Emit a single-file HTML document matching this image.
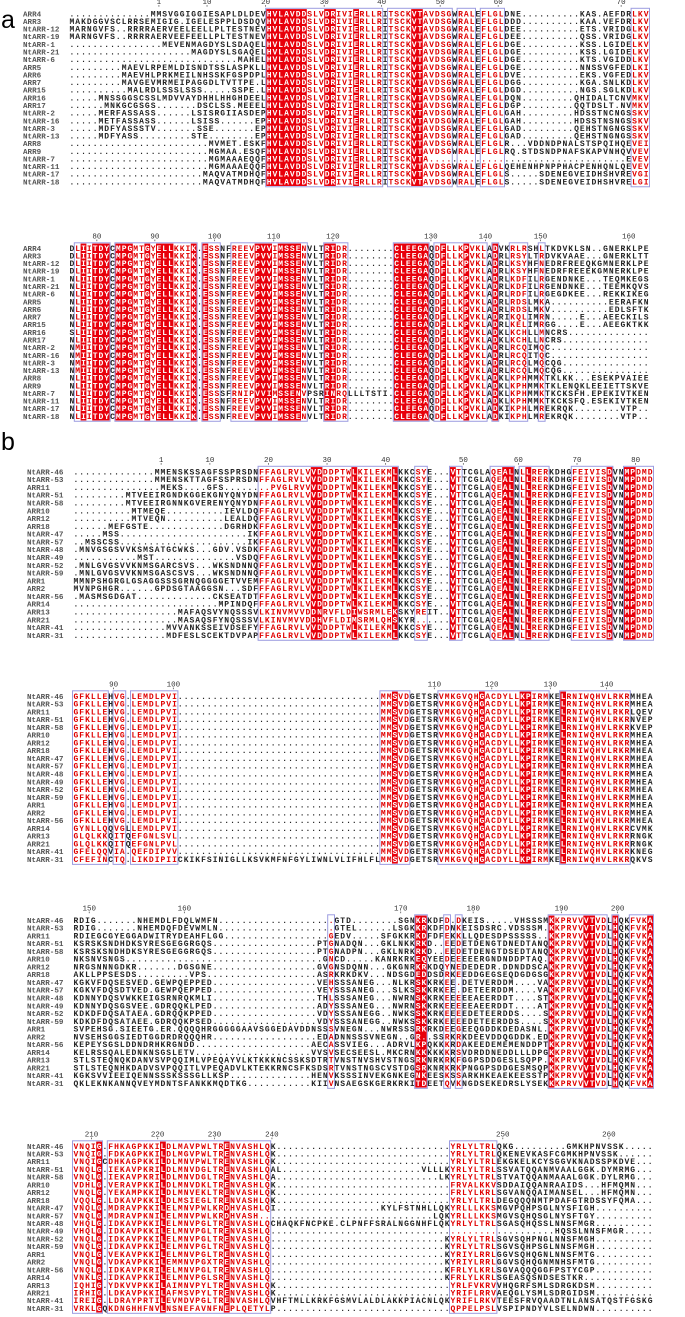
<!DOCTYPE html>
<html><head><meta charset="utf-8"><title>Multiple sequence alignment of ARR proteins</title>
<style>
html,body{margin:0;padding:0;background:#fff;}
svg{display:block;}
</style></head>
<body>
<svg id="fig" xmlns="http://www.w3.org/2000/svg" width="685" height="1317" viewBox="0 0 685 1317">
<text x="1" y="28" font-family="Liberation Sans, sans-serif" font-size="25" fill="#000">a</text>
<text x="1" y="450" font-family="Liberation Sans, sans-serif" font-size="25" fill="#000">b</text>
</svg>
<script>
const CW = 5.8;
const namesA = ["ARR4","ARR3","NtARR-12","NtARR-19","NtARR-1","NtARR-21","NtARR-6","ARR5","ARR6","ARR7","ARR15","ARR16","ARR17","NtARR-2","NtARR-16","NtARR-3","NtARR-13","ARR8","ARR9","NtARR-7","NtARR-11","NtARR-17","NtARR-18"];
const namesB = ["NtARR-46","NtARR-53","ARR11","NtARR-51","NtARR-58","ARR10","ARR12","ARR18","NtARR-47","NtARR-57","NtARR-48","NtARR-49","NtARR-52","NtARR-59","ARR1","ARR2","NtARR-56","ARR14","ARR13","ARR21","NtARR-41","NtARR-31"];

const rulerA1 = [["1",15],["10",23.3],["20",33.4],["30",43.5],["40",53.4],["50",63.5],["60",73.5],["70",94.7]];
const rulerA2 = [["80",4.3],["90",14.3],["100",24.6],["110",34.8],["120",45],["130",61.9],["140",71.3],["150",80.8],["160",96]];
const rulerB1 = [["1",14.7],["10",23.1],["20",33.2],["30",43.3],["40",53.4],["50",66.8],["60",76.3],["70",86.4],["80",96.5]];
const rulerB2 = [["90",6.5],["100",16.8],["110",61.8],["120",71.7],["130",81.8],["140",91.5]];
const rulerB3 = [["150",2.3],["160",18.7],["170",56],["180",68.5],["190",83.7],["200",93.4]];
const rulerB4 = [["210",2.7],["220",14.1],["230",23.9],["240",33.8],["250",73.6],["260",91.9]];

const segA1 = [["F",34,40],["F",44,45],["F",49,49],["F",59,60],["r",41,43],["r",46,48],["r",50,53],["r",55,58],["r",61,65],["r",67,69],["r",71,74],["r",97,99]];
const segA2 = [["r",1,1],["F",2,2],["r",3,3],["F",4,6],["F",8,10],["r",11,12],["F",13,13],["r",14,14],["F",15,17],["r",18,20],["F",21,21],["F",23,23],["r",24,25],["r",28,31],["F",32,34],["r",35,35],["F",36,39],["r",40,40],["F",44,45],["r",46,47],["F",56,61],["r",63,63],["F",64,64],["r",65,67],["F",68,68],["r",69,71],["F",73,73],["r",76,78],["r",81,81]];
const segB1 = [["r",32,40],["F",41,42],["r",43,47],["F",48,48],["r",49,54],["F",55,55],["r",59,60],["F",65,65],["r",66,66],["r",72,73],["F",74,75],["r",77,77],["F",78,78],["r",79,81],["r",86,91],["F",92,92],["F",95,96],["r",97,99]];
const segB2 = [["r",0,5],["r",7,8],["r",10,17],["r",53,54],["F",55,55],["r",56,57],["r",63,69],["F",70,70],["r",71,76],["F",77,78],["r",79,81],["F",84,84],["r",85,95]];
const segB3 = [["r",44,44],["F",59,60],["r",64,64],["r",66,66],["F",82,82],["r",83,87],["F",88,89],["r",90,91],["F",93,93],["r",96,98],["F",99,99]];
const segB4 = [["r",0,3],["F",4,4],["r",6,14],["F",15,15],["r",16,25],["F",26,26],["r",27,33],["r",65,72]];

const coreA1 = "..............MMSVGGIGGIESAPLDLDEVHVLAVDDSLVDRIVIERLLRITSCKVTAVDSGWRALEFLGLDNE..........KAS.AEFDRLKV";
const coreA2 = "DLIITDYCMPGMTGYELLKKIK.ESSNFREEVPVVIMSSENVLTRIDR........CLEEGAQDFLLKPVKLADVKRLRSHLTKDVKLSN..GNERKLPE";
const coreB1 = "..............MMENSKSSAGFSSPRSDNFFAGLRVLVVDDDPTWLKILEKMLKKCSYE...VTTCGLAQEALNLLRERKDHGFEIVISDVNMPDMD";
const coreB2 = "GFKLLEHVG.LEMDLPVI...................................MMSVDGETSRVMKGVQHGACDYLLKPIRMKELRNIWQHVLRKRMHEA";
const coreB3 = "RDIG.......NHEMDLFDQLWMFN....................GTD........SGNKRKDFD.DKEIS.....VHSSSMKKPRVVVTVDLHQKFVKA";
const coreB4 = "VNQIG.FHKAGPKKILDLMAVPWLTRENVASHLQK..............................YRLYLTRLQKG.........GMKHPNVSSK.....";

const ovA1 = {
"ARR3":[[0,"MAKDGGVSCLRRSEMIGIG.IGELESPPLDSDQV"],[-1,"DDD..........KAA.VEFDRLKV"]],
"NtARR-12":[[0,"MARNGVFS..RRRRAERVEELEELLPLTESTNEV"],[-1,"DEE..........ETS.VRIDGLKV"]],
"NtARR-19":[[0,"MARNGVFS..RRRRAERVEEFEELLPLTESTNEV"],[-1,"DEE..........QSS.VRIDGLKV"]],
"NtARR-1":[[0,"................MEVENMAGDYSLSDAQEL"],[-1,"DGE..........KSS.LGIDELKV"]],
"NtARR-21":[[0,".....................MAGDYSLSGAQEL"],[-1,"DGE..........KSS.LGIDELKV"]],
"NtARR-6":[[0,".............................MAHEL"],[-1,"DGE..........KTS.VGIDDLKV"]],
"ARR5":[[0,".........MAEVLRPEMLDISNDTSSLASPKLL"],[-1,"DGE..........NNSSVGFEDLKI"]],
"ARR6":[[0,".........MAEVHLPRKMEILNHSSKFGSPDPL"],[-1,"DVE..........EKS.VGFEDLKV"]],
"ARR7":[[0,".........MAVGEVMRMEIPAGGDLTVTTPE.L"],[-1,"DGG..........KGA.SNLKDLKV"]],
"ARR15":[[0,"..........MALRDLSSSLSSS.....SSPE.L"],[-1,"DGD..........NGS.SGLKDLKV"]],
"ARR16":[[0,".....MNSSGGSCSSLMDVVAYDHHLHHGHDEEL"],[-1,"DQN.........QHIDALTCNVMKV"]],
"ARR17":[[0,"......MNKGCGSGS.......DSCLSS.MEEEL"],[-1,"DGP.........QQTDSLT.NVMKV"]],
"NtARR-2":[[0,".....MERFASSASS......LSISRGIIASDEP"],[-1,"GAH.........HDSSTNCNGSSKV"]],
"NtARR-16":[[0,".....METFASSASS......LSISS......EP"],[-1,"GAH.........HDSSTNSNGSSKV"]],
"NtARR-3":[[0,".....MDFYASSSTV.......SSE.......EP"],[-1,"GAD.........QEHSTNGNGSSKV"]],
"NtARR-13":[[0,".....MDFYASS.........STE........EP"],[-1,"GAD.........QEHSTNGNGSSKV"]],
"ARR8":[[0,"........................MVMET.ESKF"],[-1,"R...VDDNDPNALSTSPQIHQEVEI"]],
"ARR9":[[0,"........................MGMAA.ESQF"],[-1,"RQ.STDSNDPNAFSKAPVNHQVVEV"]],
"NtARR-7":[[0,"........................MGMAAAEQQF"],[-1,"..................................EVEV"]],
"NtARR-11":[[0,"........................MGMAAAEQQF"],[-1,"QEHENHPNPPHACPENHQNLQEVEV"]],
"NtARR-17":[[0,".......................MAQVATMDHQF"],[-1,"S.....SDENEGVEIDHSHVREVGI"]],
"NtARR-18":[[0,".......................MAQVATMDHQF"],[-1,"S.....SDENEGVEIDHSHVRELGI"]]
};
const ovA2 = {
"ARR3":[[-1,"RLRSYLTRDVKVAAE...GNERKLTT"]],
"NtARR-12":[[-1,"RLKSYHFNEDRFREEQKGMNERKLPE"]],
"NtARR-19":[[-1,"RLKSYHFNEDRFREEEKGMNERKLPE"]],
"NtARR-1":[[0,"NL"],[-1,"RLKDFILRGENDNKE...TEQMKEGS"]],
"NtARR-21":[[0,"NL"],[-1,"RLKDFILRGENDNKE...TEEMKQVS"]],
"NtARR-6":[[0,"NL"],[-1,"RLRDFILRGEGDKEE...REKKIKEG"]],
"ARR5":[[0,"NL"],[-1,"RLRDSLMKA..........EERAFKN"]],
"ARR6":[[0,"NL"],[-1,"RLRDSLMKV..........EDLSFTK"]],
"ARR7":[[0,"NL"],[-1,"RIKQLIMRN.....E...AEECKILS"]],
"ARR15":[[0,"NL"],[-1,"RLKELIMRGG....E...AEEGKTKK"]],
"ARR16":[[0,"SL"],[-1,"KLKCHLLMNCRS.............."]],
"ARR17":[[0,"NL"],[-1,"KLKCHLLNCRS..............."]],
"NtARR-2":[[0,"NM"],[-1,"RLRCQIMQC................."]],
"NtARR-16":[[0,"NM"],[-1,"RLRCQITQC................."]],
"NtARR-3":[[0,"NM"],[-1,"RLRCQLMQCQG..............."]],
"NtARR-13":[[0,"NM"],[-1,"RLRCQLMQCQG..............."]],
"ARR8":[[0,"NL"],[-1,"KLKPHMMKTKLKK...ESEKPVAIEE"]],
"ARR9":[[0,"NL"],[-1,"KLKPHMMKTKLENQKLEEIETTSKVE"]],
"NtARR-7":[[0,"NLIITDYCMPGMTGYDLLKKIK.ESSSFRNIPVVIMSSENVPSRINRQLLLTSTI"],[-1,"KLKPHMMKTKCKSFH.EPEKIVTKEN"]],
"NtARR-11":[[0,"NL"],[-1,"KLKPHMMKTKCKSFQ.ESEKIVTKEN"]],
"NtARR-17":[[0,"NL"],[-1,"KIKPHLMREKRQK........VTP.."]],
"NtARR-18":[[0,"NL"],[-1,"KIKPHLMREKRQK........VTP.."]]
};
const ovB1 = {
"NtARR-53":[[0,"..............MMENSKTTAGFSSPRSDN"]],
"ARR11":[[0,"...............MEKS....GFS........PVGLRV"]],
"NtARR-51":[[0,".........MTVEEIRGNDKGGEKGNYQNYDN"]],
"NtARR-58":[[0,".........MTVEEIRGNNKGVERENYQNYDN"]],
"ARR10":[[0,"..........MTMEQE..........IEVLDQ"]],
"ARR12":[[0,"..........MTVEQN..........LEALDQ"]],
"ARR18":[[0,"......MEFGSTE.............DGRHDK"]],
"NtARR-47":[[0,".....MSS......................IK"]],
"NtARR-57":[[0,"..MSSCSS......................IK"]],
"NtARR-48":[[0,".MNVGSGSVVKSMSATGCWKS...GDV.VSDK"]],
"NtARR-49":[[0,"...........MST..............VSDQ"]],
"NtARR-52":[[0,".MNLGVGSVVKNMSGARCSVS...WKSNDNNQ"]],
"NtARR-59":[[0,".MNLGVGSVVKNMSGASCSVS...WKSNDNNQ"]],
"ARR1":[[0,"MMNPSHGRGLGSAGGSSSGRNQGGGGETVVEM"]],
"ARR2":[[0,"MVNPGHGR......GPDSGTAAGGSN...SDF"]],
"NtARR-56":[[0,".MASMSGDGAT.............CKSEATDT"]],
"ARR14":[[0,".........................MPINDQF"]],
"ARR13":[[0,"..................MAFAQSVYNQSSSVLKINVMVVDDNRVFLDIWSRMLEKSKYREIT"]],
"ARR21":[[0,"..................MASAQSFYNQSSSVLKINVMVVDDHVFLDIMSRMLQHSKYR...."]],
"NtARR-41":[[0,"................MVVANKSSEIVDSEFY"]],
"NtARR-31":[[0,"................MDFESLSCEKTDVPAP"]]
};
const ovB2 = {
"ARR11":[[96,"LQEV"]],
"NtARR-51":[[96,"NVEP"]],
"NtARR-58":[[96,"KVEP"]],
"ARR14":[[0,"GYNLLQQVGLLEMDLPVI"],[96,"CVMK"]],
"ARR13":[[0,"GLQLKKQITQEFGNLSVL"],[96,"RNGK"]],
"ARR21":[[0,"GLQLKKQITQEFGNLPVL"],[96,"RNGK"]],
"NtARR-41":[[0,"GFELQQVIA.QEFDIPVV"],[96,"KNEG"]],
"NtARR-31":[[0,"CFEFINCTQ.LIKDIPIICKIKFSINIGLLKSVKMFNFGYLIWNLVLIFHLFL"],[96,"QKVS"]]
};
const ovB3 = {
"NtARR-53":[[0,"RDIG.......NHEMDQFDEVWMLN....................GTEL......LSGKKRKDFDNKEISDSRC.VDSSSM",82]],
"ARR11":[[0,"RDIEGCGYEGGADWITRYDEAHFLGG..................GEDV.....SFGKKRKDFDFEKKLLQDESDPSSSSS",82]],
"NtARR-51":[[0,"KSRSKSNDHDKSYRESGEGGRGQS..................PTGNADQN...GKLNKKRKD..EEDETDENGTDNEDTANQ",82]],
"NtARR-58":[[0,"KSRSKSNDHDKSYRESGEGGRGQS..................PTGNADPN...GKLNRKRKD..EEDETDENGTDSEDTANQ",82]],
"ARR10":[[0,"NKSNVSNGS..................................GNCD.....KANRKRKEQYEEDEEEEERGNDNDDPTAQ",82]],
"ARR12":[[0,"NRGSNNNGDKR.......DGSGNE..................GVGNSDQNN...GKGNRKRKDQYNEDEDEDR.DDNDDSCAQ",82]],
"ARR18":[[0,"AKLLPPSESDS.........VPS...................ASRKRKDKV...NDSGDEDDSDRKEEDDGEGSEQDGDGSGTR",82]],
"NtARR-47":[[0,"KGKVFDQSESVED.GEWPQEPPED..................VEHSSSANEG...NLKRSKKRKEE.DETVERDDM....VAL",82]],
"NtARR-57":[[0,"KGKVFDQSDTVED.GEWPQEPPED..................VEYSSSANEG...SLKSSKKRKEE.DETEERDDM....VAL",82]],
"NtARR-48":[[0,"KDNNYDQSVWKKEIGSRNRQKMLI..................THLSSSANEG...NWRNSKKRKEEEEEAEERDDT....STL",82]],
"NtARR-49":[[0,"KDNNYDQSGSVEE.GDRQQKLPED..................ADYSSSANEG...NWRNSKKRKEEEEEAEERDDT....ATL",82]],
"NtARR-52":[[0,"KDKDFDQSATAEA.GDRQQKPPED..................VDYSSSANEGG..NWKSSKKRKEEEEDETEERDDS....SSL",82]],
"NtARR-59":[[0,"KDKDFDQSATAEE.GDRQQKPSED..................VDYSSSANEGG..NWKSSKKRKEEEEDETEERDDS....SSL",82]],
"ARR1":[[0,"SVPEHSG.SIEETG.ER.QQQQHRGGGGGAAVSGGEDAVDDNSSSVNEGN...NWRSSSRKRKDEEGEEQGDDKDEDASNL",82]],
"ARR2":[[0,"NVSEHSGGSIEDTGGDRDRQQQHR..................EDADNNSSSVNEGN..GR..SSRKRKDEEVDDQGDDK.EDSSSL",82]],
"NtARR-56":[[0,"KEPEYSGSLDDNDRHKRGNDD....................AECASSVIEG...ADRVLKPQKKKRDAKEEDEMEMENDDPTTA",82]],
"ARR14":[[0,"KELRSSQALEDNKNSGSLETV....................VVSVSECSEESL.MKCRNKKKKKKRSVDRDDNEDDLLLDPGNS",82]],
"ARR13":[[0,"STLSTEQNQKDANVSVPQQIMLVPEQAYVLKTKKKNCSSKSDTRTVNSTNVSHVSTNGSRKNRKRKFGGPSDDGESLSQPP",82]],
"ARR21":[[0,"STLSTEQNHKDADVSVPQQITLVPEQADVLKTEKKRNCSFKSDSRTVNSTNGSCVSTDGSRKNRKRKPNGGPSDDGESMSQPA",82]],
"NtARR-41":[[0,"KGKSVVIEEIQENNSSSKSSSGLLKSP..............HENVKSSSINVEKGNKEGNKEESKSSARKHKEAEKEESSTPP",82]],
"NtARR-31":[[0,"QKLEKNKANNQVEYMDNTSFANKKMQDTKG...........KIIVNSAEGSKGERKRKITDEETQVKNGDSEKEDRSLYSEKTME",82]]
};
const ovB4 = {
"NtARR-53":[[0,"VNQIG.FDKAGPKKILDLMGVPWLTRENVASHLQK"],[73,"QKENEVKASFCGMKHPNVSSK......",27]],
"ARR11":[[0,"VNQIGCDHKAGPKKILDLMNVPWLTRENVASHLQK"],[73,"EKGKELKCYSGGVKNADSSPKDVE...",27]],
"NtARR-51":[[0,"VNQLG.IEKAVPKRILDLMNVDGLTRENVASHLQAL"],[60,"VLLLK"],[73,"SSVATQQANMVAALGGK.DYMRMG...",27]],
"NtARR-58":[[0,"VNQLG.IEKAVPKRILDLMNVDGLTRENVASHLQA"],[63,"LK"],[73,"STVATQQANMAAALGGK.DYLRMG...",27]],
"ARR10":[[0,"VDHLG.VERAVPKKILDLMNVDKLTRENVASHLQK"],[65,"FRVALKKV"],[73,"SDDAIQQANRAAIDS...HFMQMN...",27]],
"ARR12":[[0,"VNQLG.YEKAMPKKILDLMNVEKLTRENVASHLQK"],[65,"FRLYLKRL"],[73,"SGVANQQAIMANSEL...HFMQMN...",27]],
"ARR18":[[0,"VQQLG.LDKAVPKKILDLMSIEGLTRENVASHLQK"],[73,"DEGQQQNMTPDAFGTRDSSYFQMA...",27]],
"NtARR-47":[[0,"VNQLG.MDRAVPKKILELMNVPWLKRDHVASHLQI"],[53,"KYLFSTNHLLQK"],[65,"YRLLLKKS"],[73,"MGVPQHPSGLNYSFIGH..........",27]],
"NtARR-57":[[0,"VNQLG.MDRAVPKNILELMNVPWLKRDHVASH..."],[62,"LQK"],[65,"YRLLLKKS"],[73,"MGVSQHQSGLNYSFTGY..........",27]],
"NtARR-48":[[0,"VHQLG.IDKAVPKKILELMNVPGLTRENVASHLQ"],[34,"CHAQKFNCPKE.CLPNFFSRALNGGNHFLQK"],[73,"SGASQHQSSLNNSFMGR..........",27]],
"NtARR-49":[[0,"VHQLG.IDKAVPKKILELMNVPGLTRENVASHLQ."],[65,"........"],[73,"..........HQSSLNNSFMGR.....",27]],
"NtARR-52":[[0,"VNQLG.IDKAVPKKILELMNVPGLTRENVASHLQ."],[64,"K"],[73,"SGVSQHPNGLNNSFMGH..........",27]],
"NtARR-59":[[0,"VNQLG.IDKAVPKKILELMNVPGLTRENVASHLQ."],[64,"K"],[73,"SGVSQHPSGLNNSFMGH..........",27]],
"ARR1":[[0,"VNQLG.VEKAVPKKILELMNVPGLTRENVASHLQ."],[64,"KYRIYLRRL"],[73,"GGVSQHQGNLNNSFMTG..........",27]],
"ARR2":[[0,"VNQLG.VDKAVPKKILEMMNVPGXTRENVASHLQ."],[64,"KYRIYLRRL"],[73,"GGVSQHQGNMNHSFMTG..........",27]],
"NtARR-56":[[0,"VNQLG.IDKAVPKRILELMNVPGLTRENVASHLQ."],[64,"KFRLYLKRL"],[73,"SGVAQQQGGFPSTYCGP..........",27]],
"ARR14":[[0,"VNKLG.IDKAVPKKILELMNVPGLSRENVASHLQ."],[64,"KFRLYLKRL"],[73,"SGEASQSNDSESTKR............",27]],
"ARR13":[[0,"IQHIG.YDKVVPKKILAIMNVPYLTRENVASHLQK"],[65,"YRLFVKRV"],[73,"VHQGRFSMLSDRGKDSM..........",27]],
"ARR21":[[0,"IRHIG.LDKAVPKKILAFMSVPYLTRENVASHLQK"],[65,"YRIFLRRV"],[73,"AEQGLYSMLSDRGIDSM..........",27]],
"NtARR-41":[[0,"IREIG.LDRAYPRTILEVMDVPGLTRENVASHLQ"],[34,"VHFTMLLKRKFGSMVLALDLAKKPIACNLQK"],[65,"YRIFLRKV"],[73,"TEESFRVQAADTNLANSATQSTFGSKG",27]],
"NtARR-31":[[0,"VRKLGQKDNGHHFNVLNSNEFAVNFNEPLQETYLP"],[65,"QPPELPSL"],[73,"VSPIPNDYVLSELNDWN..........",27]]
};

const blocks = [
 {id:"a1", names:namesA, x0:69, nameX:23, y0:13.5, rh:7.64, ruler:rulerA1, segs:segA1, core:coreA1, ov:ovA1},
 {id:"a2", names:namesA, x0:69, nameX:23, y0:248, rh:7.64, ruler:rulerA2, segs:segA2, core:coreA2, ov:ovA2},
 {id:"b1", names:namesB, x0:73, nameX:27, y0:471.5, rh:7.79, ruler:rulerB1, segs:segB1, core:coreB1, ov:ovB1},
 {id:"b2", names:namesB, x0:73, nameX:27, y0:696, rh:7.77, ruler:rulerB2, segs:segB2, core:coreB2, ov:ovB2},
 {id:"b3", names:namesB, x0:73, nameX:27, y0:920, rh:7.77, ruler:rulerB3, segs:segB3, core:coreB3, ov:ovB3},
 {id:"b4", names:namesB, x0:73, nameX:27, y0:1146, rh:7.72, ruler:rulerB4, segs:segB4, core:coreB4, ov:ovB4}
];

const NS = "http://www.w3.org/2000/svg";
const svg = document.getElementById("fig");
const RED = "#e8000b", BOX = "#9c9ce0";

function mk(tag, attrs, parent){
  const e = document.createElementNS(NS, tag);
  for (const k in attrs) e.setAttribute(k, attrs[k]);
  parent.appendChild(e);
  return e;
}

blocks.forEach(function(b){
  const g = mk("g", {}, svg);
  
  
  const n = b.names.length;
  const top = b.y0 - 4.4, h = (n - 1) * b.rh + 8.8;
  const mask = new Array(100).fill("k");
  b.segs.forEach(function(s){ for (let c = s[1]; c <= s[2]; c++) mask[c] = s[0]; });
  b.segs.forEach(function(s){
    if (s[0] !== "F") return;
    const r = mk("rect", {x: b.x0 + s[1]*CW, y: top, width: (s[2]-s[1]+1)*CW, height: h, fill: RED}, g);
    
    
  });
  let c = 0;
  while (c < 100) {
    if (mask[c] === "k") { c++; continue; }
    let e = c; while (e + 1 < 100 && mask[e+1] !== "k") e++;
    const r = mk("rect", {x: b.x0 + c*CW - 0.5, y: top - 0.8, width: (e-c+1)*CW + 1, height: h + 1.6, fill: "none", stroke: BOX, "stroke-width": 1}, g);
    
    
    c = e + 1;
  }
  b.ruler.forEach(function(t){
    const cx = b.x0 + t[1]*CW + CW/2;
    const tx = mk("text", {x: cx, y: b.y0 - 9.5, "text-anchor": "middle", "font-family": "Liberation Mono, monospace", "font-size": 7.5, fill: "#333"}, g);
    tx.textContent = t[0];
    
    
    const d = mk("rect", {x: cx - 0.4, y: b.y0 - 8.4, width: 0.8, height: 1.6, fill: "#555"}, g);
    
    
  });
  b.names.forEach(function(name, i){
    const cy = b.y0 + i*b.rh, base = cy + 2.8;
    const nt = mk("text", {x: b.nameX, y: base, "font-family": "Liberation Mono, monospace", "font-size": 7.6, "font-weight": "bold", fill: "#555"}, g);
    nt.textContent = name;
    
    
    const arr = b.core.split("");
    (b.ov[name] || []).forEach(function(o){
      let s = o[1];
      if (o[2]) s = s.padEnd(o[2], ".").slice(0, o[2]);
      const col = o[0] < 0 ? 100 - s.length : o[0];
      for (let j = 0; j < s.length; j++) if (col + j < 100 && col + j >= 0) arr[col + j] = s[j];
    });
    const st = mk("text", {y: base, "font-family": "Liberation Mono, monospace", "font-size": 8, "font-weight": "bold"}, g);
    
    
    let k = 0;
    while (k < 100) {
      const t = mask[k];
      let e = k; while (e + 1 < 100 && mask[e+1] === t) e++;
      const xs = [];
      for (let j = k; j <= e; j++) xs.push((b.x0 + j*CW + 0.5).toFixed(1));
      const ts = mk("tspan", {x: xs.join(" "), fill: t === "F" ? "#fff" : (t === "r" ? "#e00000" : "#222")}, st);
      ts.textContent = arr.slice(k, e + 1).join("");
      k = e + 1;
    }
  });
});
</script>
</body></html>
